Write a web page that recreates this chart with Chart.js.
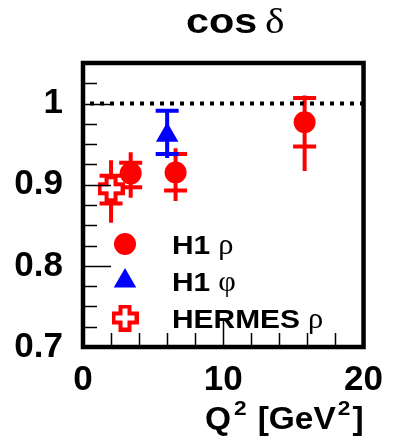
<!DOCTYPE html>
<html>
<head>
<meta charset="utf-8">
<script src="https://cdn.jsdelivr.net/npm/chart.js@4.4.1/dist/chart.umd.min.js"></script>
<style>
  html, body { margin: 0; padding: 0; background: #fff; }
  #wrap { width: 395px; height: 437px; }
</style>
</head>
<body>
<div id="wrap"><canvas id="myChart" width="395" height="437"></canvas></div>
<script>
// H1 rho: Q^2, cos(delta), stat errors (caps) and total errors (line)
var h1RhoQ2 = [3.4, 6.6, 15.8];
var h1RhoCos = [0.914, 0.915, 0.977];
var h1RhoStatUp = [0.013, 0.023, 0.030];
var h1RhoStatDn = [0.017, 0.022, 0.030];
var h1RhoTotUp = [0.026, 0.030, 0.033];
var h1RhoTotDn = [0.030, 0.035, 0.060];

// H1 phi
var h1PhiQ2 = [6.0];
var h1PhiCos = [0.961];
var h1PhiStatUp = [0.030];
var h1PhiStatDn = [0.023];
var h1PhiTotUp = [0.030];
var h1PhiTotDn = [0.028];

// HERMES rho
var hermesQ2 = [2.0];
var hermesCos = [0.895];
var hermesStatUp = [0.016];
var hermesStatDn = [0.018];
var hermesTotUp = [0.035];
var hermesTotDn = [0.042];

// reference line cos(delta) = 1
var unityQ2 = [0, 20];
var unityCos = [1, 1];

var xTickLabels = ['0', '10', '20'];
var yTickLabels = ['0.7', '0.8', '0.9', '1'];

var SANS = "'Liberation Sans', Arial, Helvetica, sans-serif";
var SERIF = "'Liberation Serif', 'Times New Roman', serif";

function points(xs, ys) {
    return xs.map(function(x, i){ return {x: x, y: ys[i]}; });
}

// open cross marker (red outline, white inside)
function hollowCross(size, arm, edge) {
    var c = document.createElement('canvas');
    c.width = size; c.height = size;
    var g = c.getContext('2d');
    var m = size / 2;
    g.fillStyle = '#ff0000';
    g.fillRect(m - arm, 0, 2 * arm, size);
    g.fillRect(0, m - arm, size, 2 * arm);
    g.fillStyle = '#ffffff';
    g.fillRect(m - arm + edge, edge, 2 * (arm - edge), size - 2 * edge);
    g.fillRect(edge, m - arm + edge, size - 2 * edge, 2 * (arm - edge));
    return c;
}
var crossMarker = hollowCross(27, 6.5, 4);

// text drawn slightly wider than the font, returns advance
function wideText(ctx, text, x, y, font, sx) {
    ctx.font = font;
    ctx.save();
    ctx.translate(x, y);
    ctx.scale(sx, 1);
    ctx.fillText(text, 0, 0);
    ctx.restore();
    return ctx.measureText(text).width * sx;
}

// error bars: total error as the line, stat error as caps
var errorBars = {
    id: 'errorBars',
    beforeDatasetsDraw: function(chart) {
        var ctx = chart.ctx, xs = chart.scales.x, ys = chart.scales.y;
        ctx.save();
        chart.data.datasets.forEach(function(ds) {
            if (!ds.err) return;
            ctx.strokeStyle = ds.borderColor;
            ctx.lineWidth = 4;
            ds.data.forEach(function(p, i) {
                var px = xs.getPixelForValue(p.x);
                var yLo = ys.getPixelForValue(p.y - ds.err.totDn[i]);
                var yHi = ys.getPixelForValue(p.y + ds.err.totUp[i]);
                var cLo = ys.getPixelForValue(p.y - ds.err.statDn[i]);
                var cHi = ys.getPixelForValue(p.y + ds.err.statUp[i]);
                ctx.beginPath();
                ctx.moveTo(px, yLo); ctx.lineTo(px, yHi);
                ctx.moveTo(px - 11.5, cLo); ctx.lineTo(px + 11.5, cLo);
                ctx.moveTo(px - 11.5, cHi); ctx.lineTo(px + 11.5, cHi);
                ctx.stroke();
            });
        });
        ctx.restore();
    }
};

// thick frame with inward tick marks on the left and bottom
var frame = {
    id: 'frame',
    afterDatasetsDraw: function(chart) {
        var ctx = chart.ctx, a = chart.chartArea;
        var xs = chart.scales.x, ys = chart.scales.y;
        ctx.save();
        ctx.strokeStyle = '#000';
        ctx.lineWidth = 1.5;
        ctx.beginPath();
        ys.ticks.forEach(function(t) {
            if (t.value <= ys.min || t.value >= ys.max) return;
            var py = Math.round(ys.getPixelForValue(t.value)) + 0.5;
            var len = t.label ? 28 : 14;
            ctx.moveTo(a.left, py); ctx.lineTo(a.left + len, py);
        });
        xs.ticks.forEach(function(t) {
            if (t.value <= xs.min || t.value >= xs.max) return;
            var px = Math.round(xs.getPixelForValue(t.value)) + 0.5;
            var len = t.label ? 28 : 14;
            ctx.moveTo(px, a.bottom); ctx.lineTo(px, a.bottom - len);
        });
        ctx.stroke();
        ctx.lineWidth = 4.5;
        ctx.strokeRect(a.left, a.top, a.right - a.left, a.bottom - a.top);
        ctx.restore();
    }
};

// title, x-axis title with superscripts and the in-frame legend
var labels = {
    id: 'labels',
    afterDraw: function(chart) {
        var ctx = chart.ctx, a = chart.chartArea;
        ctx.save();
        ctx.fillStyle = '#000';
        ctx.textBaseline = 'alphabetic';
        ctx.textAlign = 'left';

        wideText(ctx, 'cos', 186, 33, 'bold 35px ' + SANS, 1.18);
        wideText(ctx, '\u03b4', 265, 33, '36px ' + SERIF, 1.15);

        // Q^2 [GeV^2], right aligned to the frame
        var base = 'bold 31px ' + SANS, sup = 'bold 21px ' + SANS, sx = 1.08;
        var parts = [['Q', base, 0, 3], ['2', sup, -14, 11], ['[GeV', base, 0, 2], ['2', sup, -14, 2], [']', base, 0, 0]];
        var total = 0;
        parts.forEach(function(p){ ctx.font = p[1]; total += ctx.measureText(p[0]).width * sx + p[3]; });
        var tx = a.right - total, ty = 429;
        parts.forEach(function(p){
            tx += wideText(ctx, p[0], tx, ty + p[2], p[1], sx) + p[3];
        });

        var row = 0;
        chart.data.datasets.forEach(function(ds) {
            if (!ds.label) return;
            var my = a.top + 181 + row * 37;
            var mx = a.left + 42;
            ctx.fillStyle = ds.backgroundColor;
            Chart.helpers.drawPoint(ctx, {
                pointStyle: ds.pointStyle, radius: ds.pointRadius,
                rotation: 0, borderWidth: 0
            }, mx, my);
            var cut = ds.label.lastIndexOf(' ');
            var word = ds.label.slice(0, cut), greek = ds.label.slice(cut + 1);
            ctx.fillStyle = '#000';
            var w = wideText(ctx, word, a.left + 89, my + 10, 'bold 26px ' + SANS, 1.15);
            wideText(ctx, greek, a.left + 89 + w + 8, my + 10, '29px ' + SERIF, 1.05);
            row++;
        });
        ctx.restore();
    }
};

window.onload = function(){
    var ctx = document.getElementById('myChart').getContext('2d');
    window.myChart = new Chart(ctx, {
        type: 'scatter',
        data: {
            datasets: [{
                data: points(unityQ2, unityCos),
                type: 'line',
                showLine: true,
                borderColor: '#000',
                borderWidth: 4,
                borderDash: [4, 6],
                borderDashOffset: 3,
                borderCapStyle: 'butt',
                pointRadius: 0,
                order: 0
            }, {
                label: 'H1 \u03c1',
                data: points(h1RhoQ2, h1RhoCos),
                backgroundColor: '#ff0000',
                borderColor: '#ff0000',
                pointStyle: 'circle',
                pointRadius: 11,
                borderWidth: 0,
                err: {statUp: h1RhoStatUp, statDn: h1RhoStatDn, totUp: h1RhoTotUp, totDn: h1RhoTotDn},
                order: 3
            }, {
                label: 'H1 \u03c6',
                data: points(h1PhiQ2, h1PhiCos),
                backgroundColor: '#0000ff',
                borderColor: '#0000ff',
                pointStyle: 'triangle',
                pointRadius: 13,
                borderWidth: 0,
                err: {statUp: h1PhiStatUp, statDn: h1PhiStatDn, totUp: h1PhiTotUp, totDn: h1PhiTotDn},
                order: 1
            }, {
                label: 'HERMES \u03c1',
                data: points(hermesQ2, hermesCos),
                backgroundColor: '#ff0000',
                borderColor: '#ff0000',
                pointStyle: crossMarker,
                pointRadius: 13,
                borderWidth: 0,
                err: {statUp: hermesStatUp, statDn: hermesStatDn, totUp: hermesTotUp, totDn: hermesTotDn},
                order: 2
            }]
        },
        options: {
            responsive: false,
            animation: false,
            events: [],
            layout: {
                padding: {top: 63, right: 24, left: 0, bottom: 0}
            },
            plugins: {
                legend: {display: false},
                title: {display: false},
                tooltip: {enabled: false}
            },
            scales: {
                x: {
                    type: 'linear',
                    min: 0, max: 20,
                    grid: {display: false, drawTicks: false},
                    border: {display: false},
                    ticks: {
                        stepSize: 2,
                        autoSkip: false,
                        maxRotation: 0,
                        padding: 12,
                        color: '#000',
                        font: {family: SANS, size: 35, weight: 'bold'},
                        callback: function(v){
                            return xTickLabels.indexOf(String(v)) >= 0 ? String(v) : '';
                        }
                    },
                    afterFit: function(s){ s.height = 90; }
                },
                y: {
                    min: 0.7, max: 1.05,
                    grid: {display: false, drawTicks: false},
                    border: {display: false},
                    ticks: {
                        stepSize: 0.025,
                        autoSkip: false,
                        padding: 20,
                        color: '#000',
                        font: {family: SANS, size: 35, weight: 'bold'},
                        callback: function(v){
                            var s = String(Math.round(v * 10) / 10);
                            if (Math.abs(v * 10 - Math.round(v * 10)) > 1e-6) return '';
                            return yTickLabels.indexOf(s) >= 0 ? s : '';
                        }
                    },
                    afterFit: function(s){ s.width = 83; }
                }
            }
        },
        plugins: [errorBars, frame, labels]
    });
};
</script>
</body>
</html>
